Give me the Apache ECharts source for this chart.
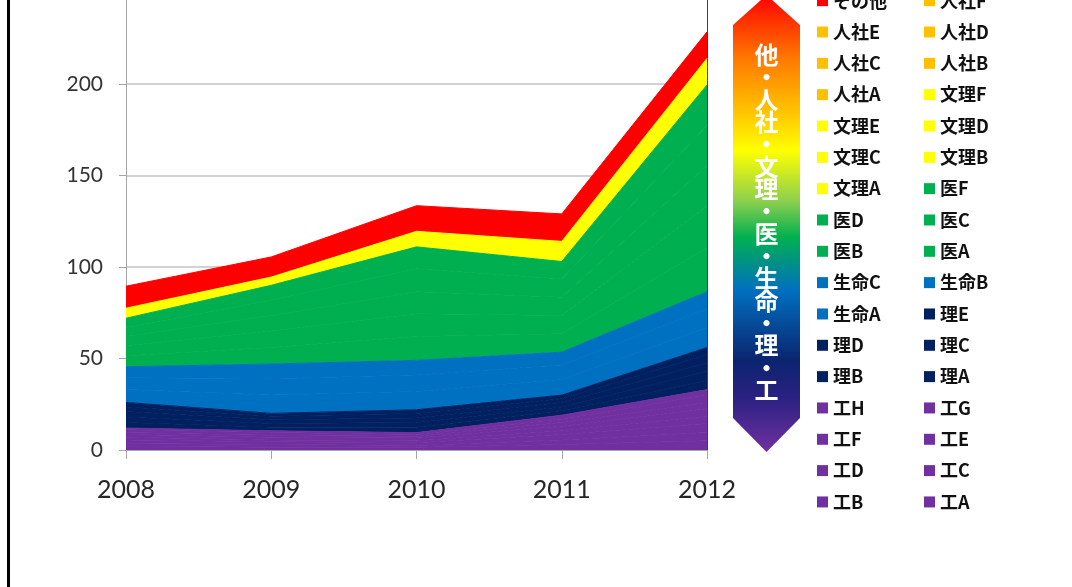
<!DOCTYPE html>
<html>
<head>
<meta charset="utf-8">
<script src="https://cdn.jsdelivr.net/npm/echarts@6/dist/echarts.min.js"></script>
<style>
html,body{margin:0;padding:0;background:#fff;}
#chart{width:1072px;height:587px;}
</style>
</head>
<body>
<div id="chart"></div>
<script>
// ---- data ----
const years = ['2008', '2009', '2010', '2011', '2012'];
const yTicks = [0, 50, 100, 150, 200, 250];

const koA = [2, 1.5, 1.5, 3, 5];
const koB = [1.5, 1.5, 1, 2.5, 4.5];
const koC = [2, 1.5, 1.5, 3, 5];
const koD = [1.5, 1, 1, 2, 4];
const koE = [1.5, 1.5, 1.5, 2.5, 4];
const koF = [1, 1, 1, 2, 3.5];
const koG = [1.5, 1.5, 1, 2, 4];
const koH = [1, 1, 1, 2, 3];

const riA = [3, 2, 3, 2.5, 5];
const riB = [3, 2, 2.5, 2, 5];
const riC = [3, 2, 2.5, 2.5, 4.5];
const riD = [2.5, 2, 2.5, 2, 4.5];
const riE = [2.5, 1.5, 2, 2, 4];

const seiA = [7, 10, 10, 8.5, 11];
const seiB = [6.5, 9, 9, 8, 10];
const seiC = [6, 8, 8, 7, 9.5];

const iA = [6, 9, 13, 10, 24];
const iB = [5.5, 9, 12.5, 10, 23];
const iC = [5, 8.5, 12, 10, 22];
const iD = [5, 8.5, 12.5, 10, 22];
const iF = [5, 8, 12, 9.5, 22];

const bunA = [1, 1, 1.5, 2, 2.5];
const bunB = [1, 0.5, 1.5, 2, 2.5];
const bunC = [1, 1, 1.5, 2, 2.5];
const bunD = [1, 0.5, 1.5, 2, 2.5];
const bunE = [0.5, 1, 1.5, 1.5, 2];
const bunF = [1, 0.5, 1, 1.5, 2.5];

const jinA = [0, 0, 0, 0, 0];
const jinB = [0, 0, 0, 0, 0];
const jinC = [0, 0, 0, 0, 0];
const jinD = [0, 0, 0, 0, 0];
const jinE = [0, 0, 0, 0, 0];
const jinF = [0, 0, 0, 0, 0];

const sonota = [12, 11, 14, 15, 14.5];

const arrowText = ['他','・','人','社','・','文','理','・','医','・','生','命','・','理','・','工'];

// ---- colours per group ----
const C_KO = '#7030A0', C_RI = '#002060', C_SEI = '#0070C0', C_I = '#00B050',
      C_BUN = '#FFFF00', C_JIN = '#FFC000', C_OTHER = '#FF0000';

// bottom -> top stacking order
const stackList = [
  ['工A', koA, C_KO], ['工B', koB, C_KO], ['工C', koC, C_KO], ['工D', koD, C_KO],
  ['工E', koE, C_KO], ['工F', koF, C_KO], ['工G', koG, C_KO], ['工H', koH, C_KO],
  ['理A', riA, C_RI], ['理B', riB, C_RI], ['理C', riC, C_RI], ['理D', riD, C_RI], ['理E', riE, C_RI],
  ['生命A', seiA, C_SEI], ['生命B', seiB, C_SEI], ['生命C', seiC, C_SEI],
  ['医A', iA, C_I], ['医B', iB, C_I], ['医C', iC, C_I], ['医D', iD, C_I], ['医F', iF, C_I],
  ['文理A', bunA, C_BUN], ['文理B', bunB, C_BUN], ['文理C', bunC, C_BUN], ['文理D', bunD, C_BUN],
  ['文理E', bunE, C_BUN], ['文理F', bunF, C_BUN],
  ['人社A', jinA, C_JIN], ['人社B', jinB, C_JIN], ['人社C', jinC, C_JIN], ['人社D', jinD, C_JIN],
  ['人社E', jinE, C_JIN], ['人社F', jinF, C_JIN],
  ['その他', sonota, C_OTHER]
];

const series = stackList.map(([name, data, color]) => {
  const allZero = data.every(v => v === 0);
  return {
    name: name,
    type: 'line',
    stack: 'total',
    data: data,
    color: color,
    symbol: 'none',
    showSymbol: false,
    lineStyle: { width: allZero ? 0 : 1, color: color, opacity: allZero ? 0 : 1 },
    areaStyle: { color: color, opacity: 1 },
    emphasis: { disabled: true }
  };
});

const legendOrder = stackList.map(s => s[0]).reverse();

const chart = echarts.init(document.getElementById('chart'), null, { renderer: 'canvas' });

chart.setOption({
  animation: false,
  backgroundColor: '#ffffff',
  grid: { left: 126, right: 365, top: -7.5, bottom: 137, containLabel: false, outerBoundsMode: 'none' },
  xAxis: {
    type: 'category',
    data: years,
    boundaryGap: false,
    axisLine: { show: true, lineStyle: { color: '#A6A6A6', width: 1 } },
    axisTick: { show: true, length: 9, lineStyle: { color: '#A6A6A6' } },
    axisLabel: { margin: 27, fontSize: 25, fontFamily: 'Lato', color: '#262626' },
    splitLine: { show: false }
  },
  yAxis: [{
    type: 'value',
    min: yTicks[0],
    max: yTicks[yTicks.length - 1],
    interval: 50,
    axisLine: { show: true, lineStyle: { color: '#A6A6A6', width: 1 } },
    axisTick: { show: true, length: 7, lineStyle: { color: '#A6A6A6' } },
    axisLabel: { margin: 23, fontSize: 21, fontFamily: 'Lato', color: '#333333' },
    splitLine: { show: true, lineStyle: { color: '#C3C3C3', width: 1.5 } }
  }, {
    type: 'value',
    position: 'right',
    min: yTicks[0],
    max: yTicks[yTicks.length - 1],
    interval: 50,
    axisLine: { show: true, lineStyle: { color: '#404040', width: 1 } },
    axisTick: { show: false },
    axisLabel: { show: false },
    splitLine: { show: false }
  }],
  legend: {
    data: legendOrder,
    orient: 'horizontal',
    left: 817,
    top: -10,
    width: 214,
    padding: 0,
    itemGap: 10,
    itemWidth: 11,
    itemHeight: 11,
    icon: 'rect',
    selectedMode: false,
    textStyle: {
      fontSize: 18,
      fontWeight: 'bold',
      fontFamily: 'Noto Sans CJK JP',
      color: '#111111',
      width: 81,
      lineHeight: 21.33,
      overflow: 'none'
    }
  },
  graphic: [
    {
      type: 'line',
      shape: { x1: 8.5, y1: 0, x2: 8.5, y2: 587 },
      style: { stroke: '#000000', lineWidth: 3 },
      silent: true
    },
    {
      type: 'polygon',
      shape: { points: [[733, 25], [766.5, -5], [800, 25], [800, 418], [766.5, 452], [733, 418]] },
      style: {
        fill: new echarts.graphic.LinearGradient(0, 0, 0, 1, [
          { offset: 0, color: '#FF0000' },
          { offset: 0.14, color: '#FF7A00' },
          { offset: 0.25, color: '#FFC000' },
          { offset: 0.34, color: '#FFFF00' },
          { offset: 0.45, color: '#8ED04E' },
          { offset: 0.53, color: '#00B050' },
          { offset: 0.645, color: '#0070C0' },
          { offset: 0.80, color: '#0B2470' },
          { offset: 0.88, color: '#2A2182' },
          { offset: 1, color: '#7030A0' }
        ])
      },
      silent: true
    },
    {
      type: 'text',
      x: 766.5,
      y: 222.5,
      style: {
        text: arrowText.join('\n'),
        fill: '#ffffff',
        fontSize: 24,
        fontWeight: 'bold',
        fontFamily: 'Noto Sans CJK JP',
        lineHeight: 22.33,
        align: 'center',
        verticalAlign: 'middle'
      },
      silent: true
    }
  ],
  series: series
});
</script>
</body>
</html>
